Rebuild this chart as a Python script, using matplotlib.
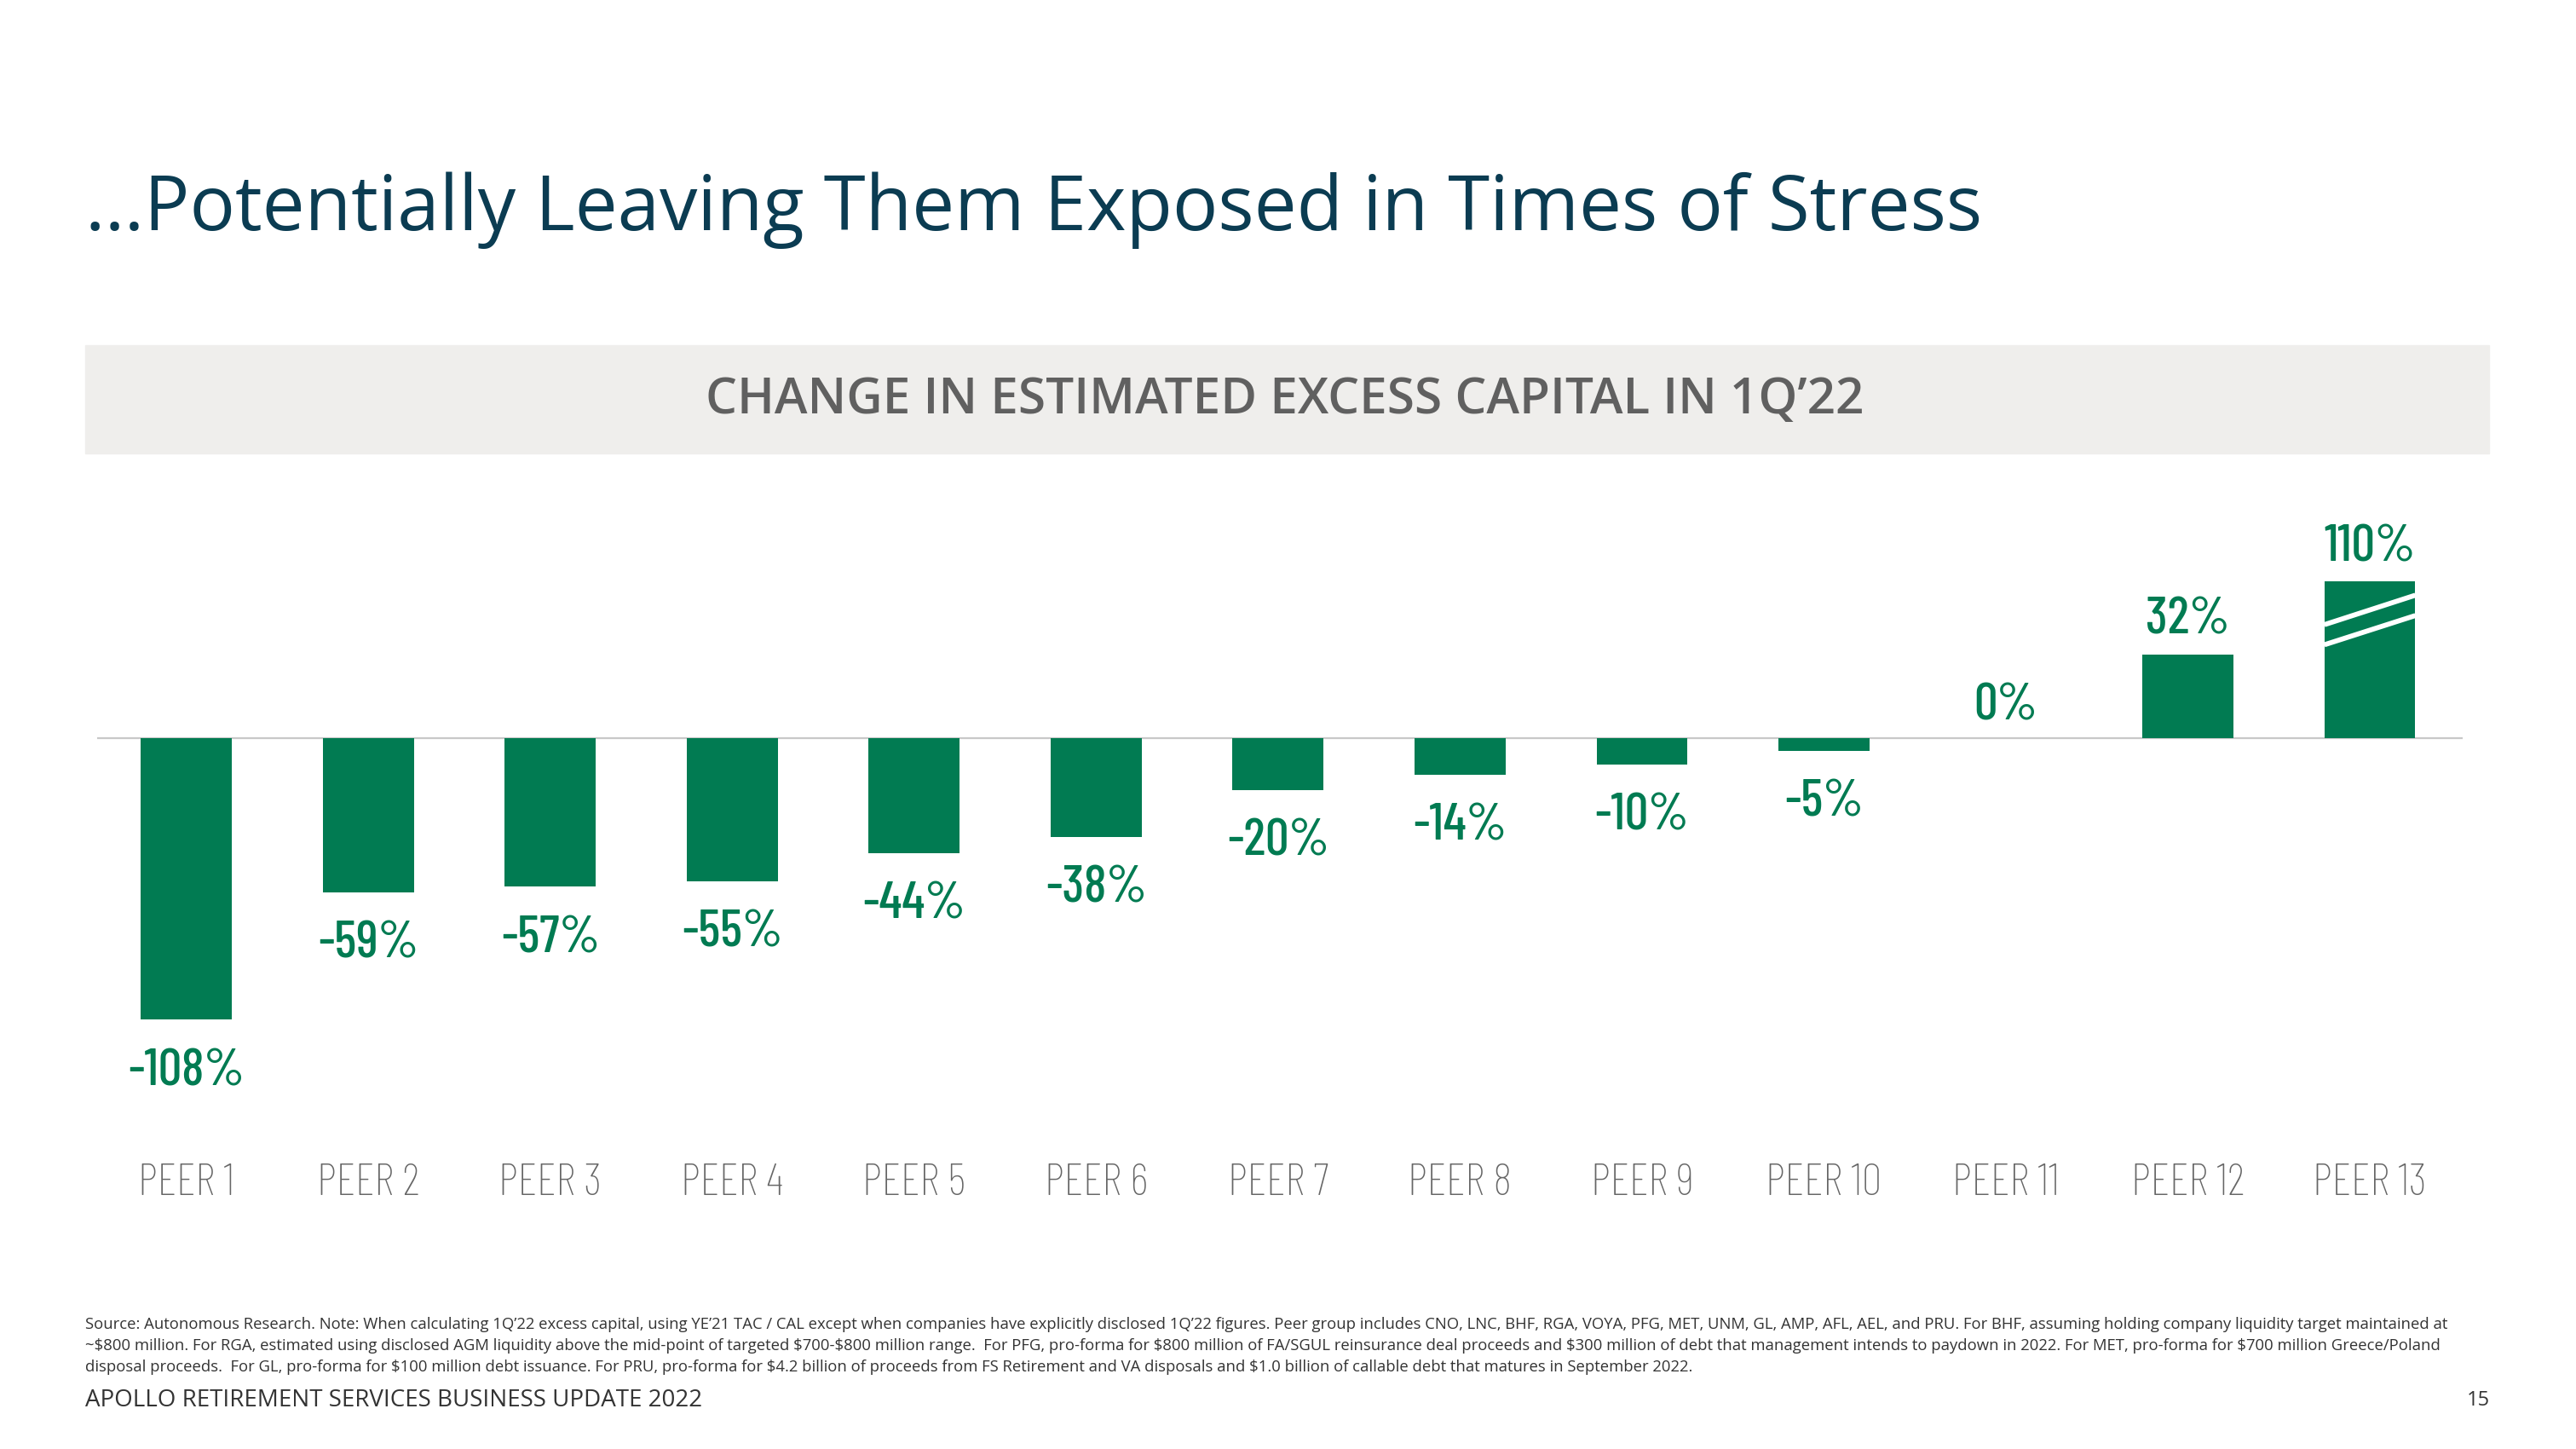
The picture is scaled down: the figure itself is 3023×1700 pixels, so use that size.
"""Change in estimated excess capital, 1Q'22 peer chart."""
import numpy as np
import matplotlib
matplotlib.use('Agg')
import matplotlib.pyplot as plt
from matplotlib.patches import Rectangle

peers = ['PEER 1', 'PEER 2', 'PEER 3', 'PEER 4', 'PEER 5', 'PEER 6', 'PEER 7',
         'PEER 8', 'PEER 9', 'PEER 10', 'PEER 11', 'PEER 12', 'PEER 13']
change_pct = [-108, -59, -57, -55, -44, -38, -20, -14, -10, -5, 0, 32, 110]
bar_cap = 60  # peer 13 bar is drawn cut, with break marks

title = '\u2026Potentially Leaving Them Exposed in Times of Stress'
chart_title = 'CHANGE IN ESTIMATED EXCESS CAPITAL IN 1Q\u201922'
footnote = [
    'Source: Autonomous Research. Note: When calculating 1Q\u201922 excess capital, using YE\u201921 TAC / CAL except when companies have explicitly disclosed 1Q\u201922 figures. Peer group includes CNO, LNC, BHF, RGA, VOYA, PFG, MET, UNM, GL, AMP, AFL, AEL, and PRU. For BHF, assuming holding company liquidity target maintained at',
    '~$800 million. For RGA, estimated using disclosed AGM liquidity above the mid-point of targeted $700-$800 million range.  For PFG, pro-forma for $800 million of FA/SGUL reinsurance deal proceeds and $300 million of debt that management intends to paydown in 2022. For MET, pro-forma for $700 million Greece/Poland',
    'disposal proceeds.  For GL, pro-forma for $100 million debt issuance. For PRU, pro-forma for $4.2 billion of proceeds from FS Retirement and VA disposals and $1.0 billion of callable debt that matures in September 2022.',
]
footer = 'APOLLO RETIREMENT SERVICES BUSINESS UPDATE 2022'
page = '15'

GREEN = '#017b52'
NAVY = '#0b3c52'
GREY = '#666666'
NARROW = ['Barlow Condensed', 'Roboto Condensed', 'DejaVu Sans']
SANS = ['Open Sans', 'DejaVu Sans']

W, H = 3023, 1700
fig = plt.figure(figsize=(W / 100, H / 100), dpi=100)
fig.patch.set_facecolor('white')


def fy(px):
    return 1 - px / H


fig.text(100 / W, fy(270), title, fontsize=64, color=NAVY,
         family=SANS, va='baseline', ha='left')

fig.patches.append(Rectangle((100 / W, fy(532)), 2821 / W, 127 / H,
                             transform=fig.transFigure, color='#efeeec', zorder=0))
fig.text(1508 / W, fy(470), chart_title, fontsize=42, color='#606060',
         family=SANS, fontweight='semibold', ha='center', va='center')

# axes: zero line at y=866px, 3.06 px per percentage point
ax = fig.add_axes([114 / W, fy(1420), 2776 / W, 860 / H])
ax.set_xlim(-0.49, 12.51)
ax.set_ylim(-(1420 - 866) / 3.06, (866 - 560) / 3.06)
ax.axis('off')

x = np.arange(len(peers))
vals = np.array(change_pct)
heights = np.minimum(vals, bar_cap)
ax.axhline(0, color='#c8c8c8', lw=1.6, zorder=1)
ax.bar(x, heights, width=0.5, color=GREEN, zorder=2)

# break marks on the cut bar
i = int(np.argmax(vals))
for y0, y1 in [(43.5, 54.8), (35.8, 47.0)]:
    ax.plot([i - 0.25, i + 0.25], [y0, y1], color='white', lw=4.2,
            solid_capstyle='butt', zorder=3)

for xi, v, h in zip(x, vals, heights):
    if v < 0:
        ty = h - 19.8
    elif v == 0:
        ty = 12.2
    else:
        ty = h + 13.2
    ax.text(xi, ty, f'{v}%', ha='center', va='center', fontsize=44,
            color=GREEN, family=NARROW, fontweight='medium')

for xi, name in zip(x, peers):
    ax.text(xi, -171, name, ha='center', va='center', fontsize=38,
            color=GREY, family=NARROW, fontweight='light')

for k, line in enumerate(footnote):
    fig.text(100 / W, fy(1554 + 25 * k), line.replace('$', r'\$'), fontsize=13.3,
             color='#333333', family=SANS, ha='left', va='center')

fig.text(100 / W, fy(1643), footer, fontsize=20, color='#333333',
         family=SANS, ha='left', va='center')
fig.text(2908 / W, fy(1643), page, fontsize=17, color='#333333',
         family=SANS, ha='center', va='center')

fig.savefig('out.png', dpi=100, facecolor='white')
